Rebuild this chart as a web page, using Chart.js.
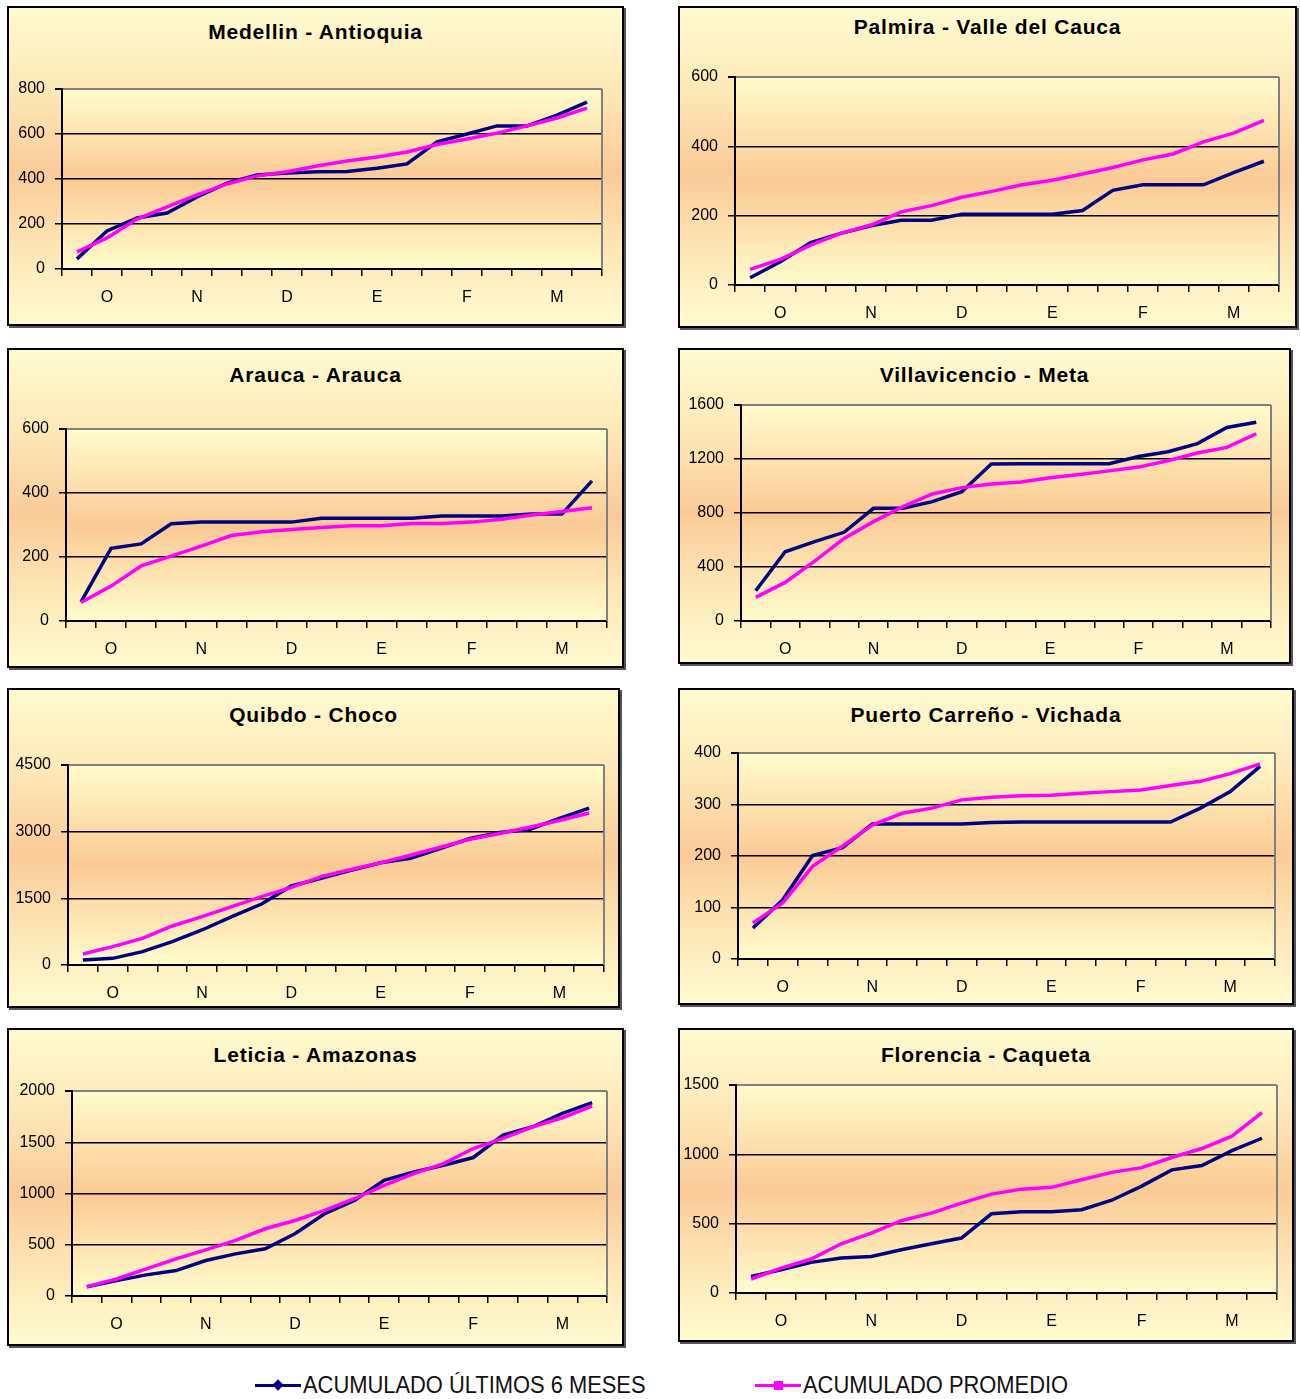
<!DOCTYPE html>
<html>
<head>
<meta charset="utf-8">
<title>Acumulado por ciudad</title>
<script src="https://cdn.jsdelivr.net/npm/chart.js@4.4.1/dist/chart.umd.min.js"></script>
<style>
  html, body { margin: 0; padding: 0; background: #fff; }
  body { width: 1301px; height: 1399px; position: relative; overflow: hidden; font-family: 'Liberation Sans', Arial, sans-serif; }
  .panel {
    position: absolute; box-sizing: border-box;
    border: 2px solid #000; box-shadow: 2px 2px 0 #555;
    background: linear-gradient(to bottom, #fffbd0 0%, #fde6b4 28%, #facb98 52%, #fde6b4 76%, #fffbd0 100%);
  }
  .title {
    position: absolute; text-align: center; font-weight: bold; font-size: 21px;
    letter-spacing: 0.8px; line-height: 24px; height: 24px; color: #000; white-space: nowrap;
  }
  canvas { position: absolute; }
  .leg-text {
    position: absolute; font-size: 24px; line-height: 24px; color: #111; white-space: nowrap;
    transform: scaleX(0.912); transform-origin: 0 0;
  }
  .leg-line { position: absolute; height: 3px; }
  .leg-mark { position: absolute; }
</style>
</head>
<body>
<script>
// x axis: 18 points, three per month, month letter on the middle one
const months = ['', 'O', '', '', 'N', '', '', 'D', '', '', 'E', '', '', 'F', '', '', 'M', ''];

const serieUltimos = 'ACUMULADO ÚLTIMOS 6 MESES';
const seriePromedio = 'ACUMULADO PROMEDIO';

// Medellin - Antioquia
const medellinUltimos = [45, 169, 227, 249, 320, 382, 418, 427, 432, 433, 448, 467, 565, 600, 636, 636, 684, 742];
const medellinPromedio = [76, 138, 222, 276, 329, 378, 414, 432, 458, 480, 498, 520, 553, 578, 604, 636, 671, 715];

// Palmira - Valle del Cauca
const palmiraUltimos = [21, 67, 122, 149, 171, 187, 187, 204, 204, 204, 204, 215, 273, 289, 289, 289, 324, 357];
const palmiraPromedio = [45, 74, 115, 149, 173, 211, 229, 253, 270, 289, 302, 320, 339, 361, 378, 413, 438, 475];

// Arauca - Arauca
const araucaUltimos = [60, 227, 241, 304, 309, 309, 309, 309, 321, 321, 321, 321, 328, 328, 328, 334, 334, 438];
const araucaPromedio = [58, 109, 172, 203, 234, 267, 279, 286, 292, 298, 298, 305, 305, 309, 318, 331, 342, 354];

// Villavicencio - Meta
const villavicencioUltimos = [224, 513, 588, 657, 835, 835, 884, 958, 1163, 1165, 1165, 1165, 1165, 1219, 1254, 1314, 1434, 1472];
const villavicencioPromedio = [175, 286, 444, 612, 736, 847, 941, 988, 1015, 1030, 1061, 1086, 1112, 1140, 1187, 1244, 1286, 1387];

// Quibdo - Choco
const quibdoUltimos = [112, 150, 300, 525, 788, 1088, 1372, 1778, 1950, 2130, 2300, 2400, 2620, 2850, 2980, 3050, 3300, 3530];
const quibdoPromedio = [248, 413, 600, 878, 1088, 1313, 1538, 1748, 1988, 2150, 2300, 2470, 2650, 2830, 2960, 3100, 3250, 3420];

// Puerto Carreño - Vichada
const puertoUltimos = [60, 115, 201, 216, 262, 262, 262, 262, 265, 266, 266, 266, 266, 266, 266, 293, 325, 374];
const puertoPromedio = [70, 109, 180, 219, 260, 283, 293, 309, 314, 317, 318, 322, 325, 328, 337, 345, 360, 379];

// Leticia - Amazonas
const leticiaUltimos = [91, 150, 206, 248, 346, 411, 460, 607, 803, 933, 1129, 1210, 1276, 1351, 1569, 1651, 1781, 1886];
const leticiaPromedio = [91, 166, 264, 362, 450, 542, 656, 737, 835, 949, 1080, 1194, 1292, 1439, 1537, 1651, 1739, 1853];

// Florencia - Caqueta
const florenciaUltimos = [120, 168, 221, 252, 264, 312, 355, 396, 571, 586, 586, 601, 669, 771, 888, 919, 1027, 1116];
const florenciaPromedio = [101, 180, 245, 355, 432, 521, 576, 648, 713, 749, 762, 817, 870, 904, 977, 1042, 1131, 1301];

// y axis ranges [max, step] per chart
const yMedellin = [800, 200];
const yPalmira = [600, 200];
const yArauca = [600, 200];
const yVillavicencio = [1600, 400];
const yQuibdo = [4500, 1500];
const yPuerto = [400, 100];
const yLeticia = [2000, 500];
const yFlorencia = [1500, 500];

// layout: box = [x, y, w, h] of the framed panel, plot = [x1, y1, x2, y2], titleY = title centre from box top
const panels = [
    { title: 'Medellin - Antioquia', ult: medellinUltimos, prom: medellinPromedio, y: yMedellin,
      box: [7, 6, 617, 320], plot: [62, 89, 602, 269], titleY: 26 },
    { title: 'Palmira - Valle del Cauca', ult: palmiraUltimos, prom: palmiraPromedio, y: yPalmira,
      box: [678, 6, 619, 322], plot: [735, 77, 1279, 285], titleY: 21 },
    { title: 'Arauca - Arauca', ult: araucaUltimos, prom: araucaPromedio, y: yArauca,
      box: [7, 348, 617, 320], plot: [66, 429, 607, 621], titleY: 27 },
    { title: 'Villavicencio - Meta', ult: villavicencioUltimos, prom: villavicencioPromedio, y: yVillavicencio,
      box: [678, 348, 613, 316], plot: [741, 405, 1271, 621], titleY: 27 },
    { title: 'Quibdo - Choco', ult: quibdoUltimos, prom: quibdoPromedio, y: yQuibdo,
      box: [7, 688, 613, 320], plot: [68, 765, 604, 965], titleY: 27 },
    { title: 'Puerto Carreño - Vichada', ult: puertoUltimos, prom: puertoPromedio, y: yPuerto,
      box: [678, 688, 616, 317], plot: [738, 753, 1275, 959], titleY: 27 },
    { title: 'Leticia - Amazonas', ult: leticiaUltimos, prom: leticiaPromedio, y: yLeticia,
      box: [7, 1028, 617, 318], plot: [72, 1091, 607, 1296], titleY: 27 },
    { title: 'Florencia - Caqueta', ult: florenciaUltimos, prom: florenciaPromedio, y: yFlorencia,
      box: [678, 1028, 616, 314], plot: [736, 1085, 1277, 1293], titleY: 27 }
];

const FONT = "'Liberation Sans', Arial, sans-serif";

// plot area gradient + grey right border
const plotFrame = {
    id: 'plotFrame',
    beforeDraw(chart) {
        const { ctx, chartArea: a } = chart;
        const g = ctx.createLinearGradient(0, a.top, 0, a.bottom);
        g.addColorStop(0, '#fffccc');
        g.addColorStop(0.5, '#fbca94');
        g.addColorStop(1, '#fffccc');
        ctx.save();
        ctx.fillStyle = g;
        ctx.fillRect(a.left, a.top, a.right - a.left, a.bottom - a.top);
        ctx.restore();
    },
    beforeDatasetsDraw(chart) {
        const { ctx, chartArea: a } = chart;
        ctx.save();
        ctx.strokeStyle = '#808080';
        ctx.lineWidth = 2;
        ctx.beginPath();
        ctx.moveTo(a.right, a.top);
        ctx.lineTo(a.right, a.bottom);
        ctx.stroke();
        ctx.restore();
    }
};

function addPanel(p) {
    const [bx, by, bw, bh] = p.box;
    const [px1, py1, px2, py2] = p.plot;
    const [yMax, yStep] = p.y;

    const div = document.createElement('div');
    div.className = 'panel';
    div.style.cssText = `left:${bx}px;top:${by}px;width:${bw}px;height:${bh}px`;
    document.body.appendChild(div);

    const t = document.createElement('div');
    t.className = 'title';
    t.textContent = p.title;
    t.style.cssText = `left:${bx}px;width:${bw}px;top:${by + p.titleY - 12}px`;
    document.body.appendChild(t);

    const canvas = document.createElement('canvas');
    canvas.width = bw;
    canvas.height = bh;
    canvas.style.cssText = `left:${bx}px;top:${by}px;width:${bw}px;height:${bh}px`;
    document.body.appendChild(canvas);

    new Chart(canvas, {
        type: 'line',
        data: {
            labels: months,
            datasets: [
                { label: serieUltimos, data: p.ult, borderColor: '#000080', backgroundColor: '#000080',
                  borderWidth: 3.5, pointRadius: 0, tension: 0, order: 1 },
                { label: seriePromedio, data: p.prom, borderColor: '#ff00ff', backgroundColor: '#ff00ff',
                  borderWidth: 3.5, pointRadius: 0, tension: 0, order: 0 }
            ]
        },
        options: {
            responsive: false,
            animation: false,
            devicePixelRatio: 1,
            events: [],
            layout: { padding: { left: 0, top: py1 - by, right: bx + bw - px2, bottom: 0 } },
            plugins: { legend: { display: false }, tooltip: { enabled: false } },
            scales: {
                x: {
                    offset: true,
                    grid: { offset: true, drawOnChartArea: false, color: '#000', lineWidth: 1.5, tickLength: 7 },
                    border: { color: '#000', width: 2 },
                    ticks: { autoSkip: false, maxRotation: 0, padding: 12, color: '#000', font: { family: FONT, size: 16 } },
                    afterFit: s => { s.height = by + bh - py2; }
                },
                y: {
                    min: 0,
                    max: yMax,
                    ticks: { stepSize: yStep, padding: 10, color: '#000', font: { family: FONT, size: 16 },
                             callback: v => String(v) },
                    grid: {
                        color: c => (c.tick && c.tick.value === yMax) ? '#808080' : '#000',
                        lineWidth: c => (c.tick && c.tick.value === yMax) ? 2 : 1.5,
                        tickColor: '#000',
                        tickLength: 7
                    },
                    border: { color: '#000', width: 2 },
                    afterFit: s => { s.width = px1 - bx; }
                }
            }
        },
        plugins: [plotFrame]
    });
}

panels.forEach(addPanel);

// legend below the grid
function addLegend(x, color, marker, text) {
    const line = document.createElement('div');
    line.className = 'leg-line';
    line.style.cssText = `left:${x}px;top:1384px;width:46px;background:${color}`;
    document.body.appendChild(line);

    const m = document.createElement('div');
    m.className = 'leg-mark';
    if (marker === 'diamond') {
        m.style.cssText = `left:${x + 19}px;top:1381px;width:8px;height:8px;background:${color};transform:rotate(45deg)`;
    } else {
        m.style.cssText = `left:${x + 19}px;top:1381px;width:9px;height:9px;background:${color}`;
    }
    document.body.appendChild(m);

    const t = document.createElement('div');
    t.className = 'leg-text';
    t.textContent = text;
    t.style.left = (x + 48) + 'px';
    t.style.top = '1373px';
    document.body.appendChild(t);
}

addLegend(255, '#000080', 'diamond', serieUltimos);
addLegend(755, '#ff00ff', 'square', seriePromedio);
</script>
</body>
</html>
